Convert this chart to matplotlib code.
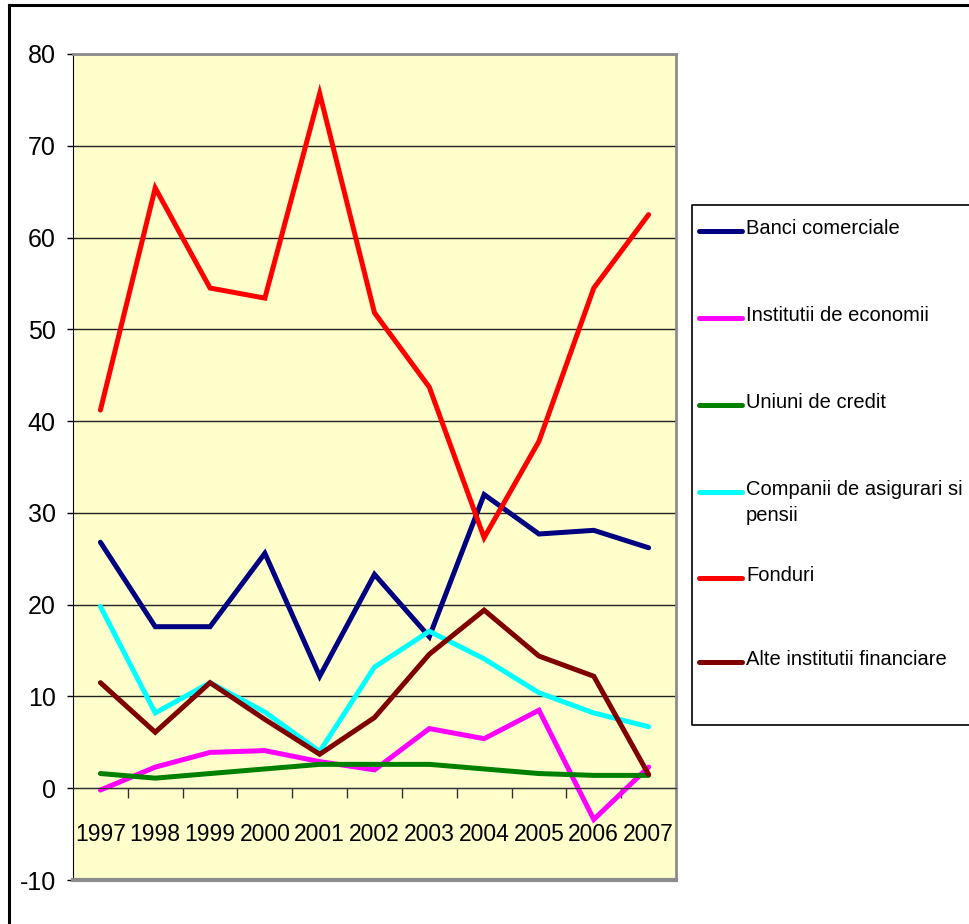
import matplotlib.pyplot as plt
from matplotlib.lines import Line2D
from matplotlib.ticker import MultipleLocator, FixedLocator

plt.rcParams['font.family'] = ['Liberation Sans', 'DejaVu Sans']
plt.rcParams['axes.unicode_minus'] = False

years = ['1997', '1998', '1999', '2000', '2001', '2002', '2003', '2004', '2005', '2006', '2007']

banci = [26.8, 17.6, 17.6, 25.6, 12.2, 23.3, 16.5, 32.0, 27.7, 28.1, 26.2]
institutii = [-0.2, 2.3, 3.9, 4.1, 2.9, 2.0, 6.5, 5.4, 8.5, -3.4, 2.3]
uniuni = [1.6, 1.1, 1.6, 2.1, 2.6, 2.6, 2.6, 2.1, 1.6, 1.4, 1.4]
companii = [19.8, 8.2, 11.5, 8.3, 4.0, 13.2, 17.1, 14.1, 10.4, 8.2, 6.7]
fonduri = [41.2, 65.4, 54.5, 53.4, 75.7, 51.8, 43.7, 27.3, 37.8, 54.5, 62.5]
alte = [11.5, 6.1, 11.5, 7.5, 3.7, 7.7, 14.6, 19.4, 14.4, 12.2, 1.5]

series = [
    ('Banci comerciale', banci, '#000080'),
    ('Institutii de economii', institutii, '#FF00FF'),
    ('Uniuni de credit', uniuni, '#008000'),
    ('Companii de asigurari si\npensii', companii, '#00FFFF'),
    ('Fonduri', fonduri, '#FF0000'),
    ('Alte institutii financiare', alte, '#800000'),
]

W, H = 969, 924
fig = plt.figure(figsize=(W / 100, H / 100), dpi=100)
ax = fig.add_axes([73 / W, 1 - 880 / H, (676 - 73) / W, (880 - 54) / H])
ax.set_facecolor('#FFFFCC')

x = list(range(len(years)))
for label, vals, color in series:
    ax.plot(x, vals, color=color, linewidth=3.6, solid_capstyle='round',
            solid_joinstyle='miter')

ax.set_xlim(-0.5, len(years) - 0.5)
ax.set_ylim(-10, 80)
ax.yaxis.set_major_locator(MultipleLocator(10))
ax.grid(axis='y', color='#222222', linewidth=1.0)
ax.tick_params(axis='y', direction='out', length=4.5, width=1, pad=8, labelsize=18)

# category axis sits on the zero line, ticks between the years
ax.spines['bottom'].set_position(('data', 0))
ax.spines['bottom'].set_color('#333333')
ax.set_xticks(x, years)
ax.xaxis.set_minor_locator(FixedLocator([i - 0.5 for i in range(1, len(years) + 1)]))
ax.tick_params(axis='x', which='major', length=0, pad=25, labelsize=16.5)
ax.tick_params(axis='x', which='minor', direction='out', length=7, width=1, color='#333333')

ax.spines['left'].set_color('black')
for side in ('top', 'right'):
    ax.spines[side].set_color('#8c8c8c')
    ax.spines[side].set_linewidth(2)
ax.axhline(-10, color='#8c8c8c', linewidth=3, clip_on=False, zorder=3)

# outer chart frame
fig.add_artist(Line2D([9 / W, 1], [1 - 5 / H, 1 - 5 / H], color='black', linewidth=2.2))
fig.add_artist(Line2D([9 / W, 9 / W], [0, 1 - 5 / H], color='black', linewidth=2.2))

# legend box (runs off the right edge) with entries
lx0, ly0, ly1 = 692, 205, 725
fig.add_artist(Line2D([1, lx0 / W, lx0 / W, 1],
                      [1 - ly0 / H, 1 - ly0 / H, 1 - ly1 / H, 1 - ly1 / H],
                      color='black', linewidth=1.2))
entry_y = [231, 318, 405, 492, 578, 662]
for (label, vals, color), ey in zip(series, entry_y):
    fig.add_artist(Line2D([699 / W, 742 / W], [1 - ey / H, 1 - ey / H],
                          color=color, linewidth=3.6, solid_capstyle='round'))
    fig.text(746 / W, 1 - (ey - 12) / H, label, fontsize=14.5, ha='left', va='top',
             linespacing=1.45)

fig.savefig('out.png', dpi=100, facecolor='white')
